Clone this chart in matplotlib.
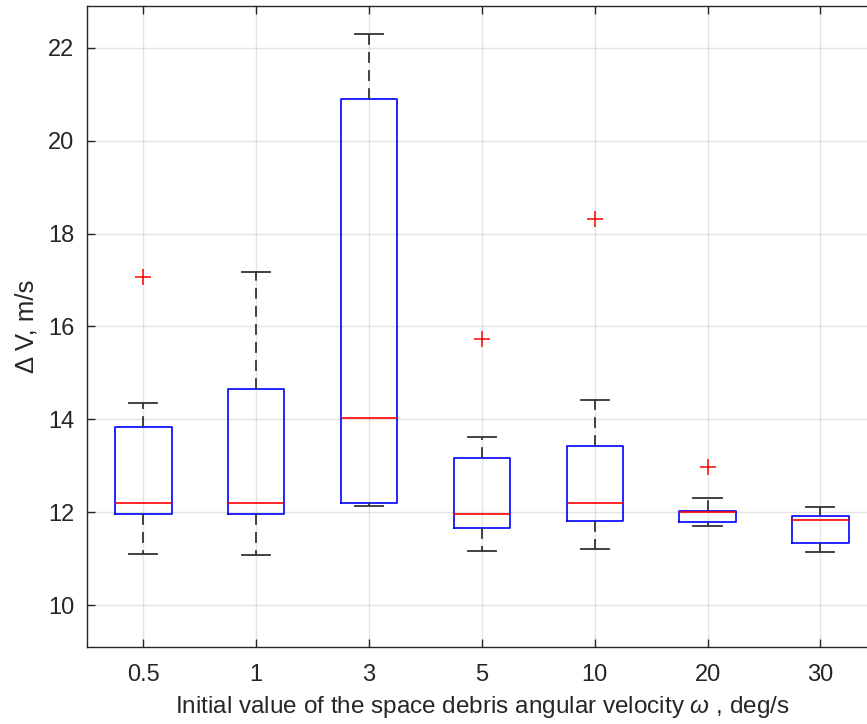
import matplotlib
matplotlib.use('Agg')
import matplotlib.pyplot as plt

# Box statistics (delta V, m/s)
omega_labels = ['0.5', '1', '3', '5', '10', '20', '30']
q1 = [11.97, 11.97, 12.19, 11.66, 11.81, 11.78, 11.34]
med = [12.19, 12.19, 14.03, 11.97, 12.19, 12.00, 11.84]
q3 = [13.84, 14.66, 20.90, 13.17, 13.42, 12.02, 11.91]
whislo = [11.11, 11.09, 12.14, 11.16, 11.21, 11.70, 11.14]
whishi = [14.36, 17.18, 22.29, 13.61, 14.41, 12.31, 12.11]
outliers = [[17.06], [], [], [15.72], [18.31], [12.98], []]

plt.rcParams['font.family'] = ['Liberation Sans', 'DejaVu Sans']
plt.rcParams['mathtext.fontset'] = 'custom'
plt.rcParams['mathtext.it'] = 'Liberation Sans:italic'
plt.rcParams['mathtext.rm'] = 'Liberation Sans'
txt = '#262626'

stats = []
for i in range(len(omega_labels)):
    stats.append(dict(q1=q1[i], med=med[i], q3=q3[i], whislo=whislo[i],
                      whishi=whishi[i], fliers=outliers[i], label=omega_labels[i]))

fig = plt.figure(figsize=(8.67, 7.24), dpi=100)
# axes run slightly past the right edge, as in the cropped original
ax = fig.add_axes([0.1003, 0.1064, 0.911, 0.8853])

ax.bxp(stats, positions=range(1, 8), widths=0.5, showfliers=True,
       boxprops=dict(color='#0000ff', linewidth=1.2),
       medianprops=dict(color='#ff0000', linewidth=1.2),
       whiskerprops=dict(color='#333333', linewidth=1.3, linestyle=(0, (6, 4))),
       capprops=dict(color='#333333', linewidth=1.3),
       flierprops=dict(marker='+', markeredgecolor='#ff0000', markersize=12,
                       markeredgewidth=1.1, linestyle='none'))

ax.set_xlim(0.5, 7.5)
ax.set_ylim(9.1, 22.9)
ax.set_yticks([10, 12, 14, 16, 18, 20, 22])
ax.set_xticks(range(1, 8))
ax.set_xticklabels(omega_labels)

ax.grid(True, color='#262626', alpha=0.12, linewidth=1.0)
ax.set_axisbelow(True)
ax.tick_params(direction='in', length=6, width=1, colors=txt, labelsize=17,
               top=True, right=True)
ax.tick_params(axis='x', pad=12)
ax.tick_params(axis='y', pad=9)
for s in ax.spines.values():
    s.set_color(txt)
    s.set_linewidth(1.0)

ax.set_xlabel(r'Initial value of the space debris angular velocity $\omega$ , deg/s',
              fontsize=17.5, color=txt, labelpad=6)
ax.set_ylabel('\u0394 V, m/s', fontsize=18.5, color=txt, labelpad=7)

fig.savefig('out.png', dpi=100)
